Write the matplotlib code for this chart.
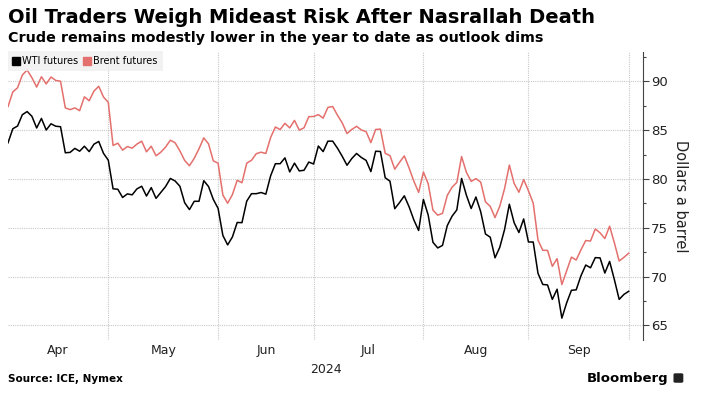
import pandas as pd
import numpy as np
import matplotlib.pyplot as plt
from matplotlib.lines import Line2D
from matplotlib.patches import FancyBboxPatch
from matplotlib.ticker import MultipleLocator

# weekdays Apr 1 - Sep 30 2024 (US holidays carry the last WTI settle)
dates = pd.bdate_range('2024-04-01', '2024-09-30')

wti = [83.71, 85.15, 85.43, 86.59, 86.91, 86.43, 85.23, 86.21, 85.02, 85.66, 85.41,
       85.36, 82.69, 82.73, 83.14, 82.85, 83.36, 82.81, 83.57, 83.85, 82.63, 81.93,
       79.00, 78.95, 78.11, 78.48, 78.38, 78.99, 79.26, 78.26, 79.12, 78.02, 78.63,
       79.23, 80.06, 79.80, 79.26, 77.57, 76.87, 77.72, 77.72, 79.83, 79.23, 77.91, 76.99,
       74.22, 73.25, 74.07, 75.55, 75.53, 77.74, 78.50, 78.50, 78.62, 78.45,
       80.33, 81.57, 81.57, 82.17, 80.73, 81.63, 80.83, 80.90, 81.74, 81.54,
       83.38, 82.81, 83.88, 83.88, 83.16, 82.33, 81.41, 82.10, 82.62, 82.21,
       81.91, 80.76, 82.85, 82.82, 80.13, 79.78, 76.96, 77.59, 78.28, 77.16, 75.81, 74.73, 77.91,
       76.31, 73.52, 72.94, 73.20, 75.23, 76.19, 76.84, 80.06, 78.35, 76.98, 78.16, 76.65,
       74.37, 74.04, 71.93, 73.01, 74.83, 77.42, 75.53, 74.52, 75.91, 73.55,
       73.55, 70.34, 69.20, 69.15, 67.67, 68.71, 65.75, 67.31, 68.60, 68.65,
       70.09, 71.19, 70.91, 71.95, 71.92, 70.37, 71.56, 69.69, 67.67, 68.18, 68.50]

brent = [87.42, 88.92, 89.35, 90.65, 91.17, 90.38, 89.42, 90.48, 89.74, 90.45, 90.10,
         90.02, 87.29, 87.11, 87.29, 87.00, 88.42, 88.02, 89.01, 89.50, 88.40, 87.86,
         83.44, 83.67, 82.96, 83.33, 83.16, 83.58, 83.88, 82.79, 83.36, 82.38, 82.75,
         83.27, 83.98, 83.71, 82.88, 81.90, 81.36, 82.12, 83.10, 84.22, 83.60, 81.86, 81.62,
         78.36, 77.52, 78.41, 79.87, 79.62, 81.63, 81.92, 82.60, 82.75, 82.62,
         84.25, 85.33, 85.07, 85.71, 85.24, 86.01, 85.01, 85.25, 86.39, 86.41,
         86.60, 86.24, 87.34, 87.43, 86.54, 85.75, 84.66, 85.08, 85.40, 85.03,
         84.85, 83.73, 85.08, 85.11, 82.63, 82.40, 81.01, 81.71, 82.37, 81.13, 79.78, 78.63, 80.72,
         79.52, 76.81, 76.30, 76.48, 78.33, 79.16, 79.66, 82.30, 80.69, 79.76, 80.04, 79.68,
         77.66, 77.20, 76.05, 77.22, 79.02, 81.43, 79.55, 78.65, 79.94, 78.80,
         77.52, 73.75, 72.70, 72.69, 71.06, 71.84, 69.19, 70.61, 72.00, 71.70,
         72.75, 73.70, 73.65, 74.88, 74.49, 73.90, 75.17, 73.46, 71.60, 71.98, 72.40]

yticks = [65, 70, 75, 80, 85, 90]
months = ['Apr', 'May', 'Jun', 'Jul', 'Aug', 'Sep']

WTI_C = '#000000'
BRENT_C = '#e4706d'

df = pd.DataFrame({'date': dates, 'wti': wti, 'brent': brent})
x = np.arange(len(df))

# index of last weekday in each month -> month boundaries
last_idx = df.groupby(df.date.dt.month).apply(lambda g: g.index[-1]).values
starts = np.concatenate([[0], last_idx[:-1]])
mids = (starts + last_idx) / 2

fig = plt.figure(figsize=(7.03, 3.95), dpi=100)
ax = fig.add_axes([0.0114, 0.139, 0.9033, 0.729])

ax.plot(x, df.brent, color=BRENT_C, lw=1.1)
ax.plot(x, df.wti, color=WTI_C, lw=1.1)

ax.set_xlim(0, 133)
ax.set_ylim(63.5, 93.0)

ax.yaxis.tick_right()
ax.yaxis.set_label_position('right')
ax.set_yticks(yticks)
ax.yaxis.set_minor_locator(MultipleLocator(2.5))
ax.tick_params(axis='y', which='major', length=4, width=0.8, color='#444',
               labelsize=9.5, labelcolor='#222', pad=2)
ax.tick_params(axis='y', which='minor', length=2.5, width=0.8, color='#444')
ax.set_ylabel('Dollars a barrel', rotation=270, labelpad=14, fontsize=10.5, color='#222')

ax.set_xticks(mids)
ax.set_xticklabels(months)
ax.tick_params(axis='x', length=0, labelsize=9, labelcolor='#222', pad=3)

for v in yticks:
    ax.axhline(v, color='#c8c8c8', lw=0.8, ls=(0, (1, 1)), zorder=0)
for b in last_idx:
    ax.axvline(b, color='#c8c8c8', lw=0.8, ls=(0, (1, 1)), zorder=0)

for s in ['top', 'left', 'bottom']:
    ax.spines[s].set_visible(False)
ax.spines['right'].set_color('#444')
ax.spines['right'].set_linewidth(0.8)

ax.text(0.5, -0.08, '2024', transform=ax.transAxes, ha='center', va='top',
        fontsize=9, color='#222')

handles = [Line2D([], [], ls='', marker='s', ms=5.5, color=WTI_C),
           Line2D([], [], ls='', marker='s', ms=5.5, color=BRENT_C)]
leg = ax.legend(handles, ['WTI futures', 'Brent futures'], loc='upper left',
                bbox_to_anchor=(0, 1.005), ncol=2, frameon=True, fontsize=7,
                handlelength=0.6, handletextpad=0.25, columnspacing=0.7,
                borderpad=0.55, borderaxespad=0, fancybox=False)
leg.get_frame().set_facecolor('#efefef')
leg.get_frame().set_edgecolor('none')

fig.text(0.0114, 0.955, 'Oil Traders Weigh Mideast Risk After Nasrallah Death',
         fontsize=14, fontweight='bold', va='center', ha='left')
fig.text(0.0114, 0.905, 'Crude remains modestly lower in the year to date as outlook dims',
         fontsize=10.3, fontweight='bold', va='center', ha='left')
fig.text(0.0114, 0.04, 'Source: ICE, Nymex', fontsize=7.5, fontweight='bold',
         va='center', ha='left')
fig.text(0.951, 0.043, 'Bloomberg', fontsize=9.5, fontweight='bold',
         va='center', ha='right')
# small logo mark next to the wordmark
fig.patches.append(FancyBboxPatch((0.958, 0.031), 0.014, 0.024, transform=fig.transFigure,
                                  boxstyle='round,pad=0,rounding_size=0.003',
                                  facecolor='#222', edgecolor='none'))

fig.savefig('out.png', dpi=100)
